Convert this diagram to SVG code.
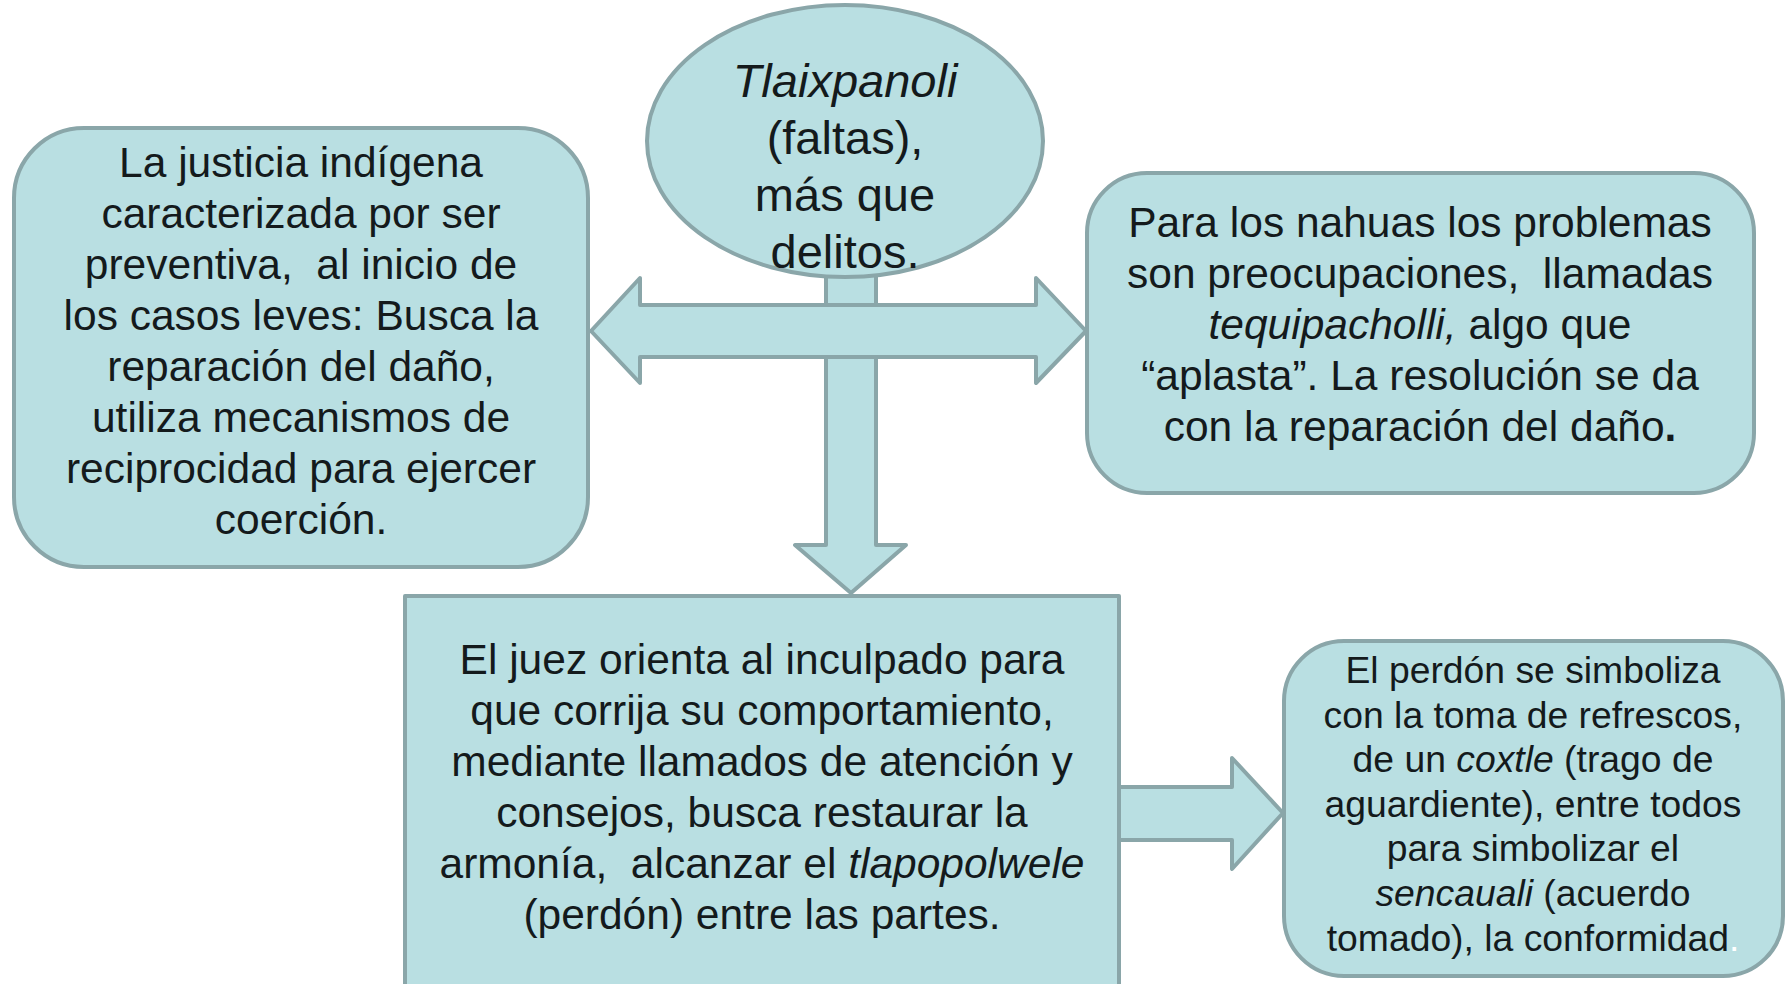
<svg xmlns="http://www.w3.org/2000/svg" width="1789" height="984" viewBox="0 0 1789 984">
<style>
.shape{fill:#B9DFE2;stroke:#8AA6A9;stroke-width:4;stroke-linejoin:round}
.t{font-family:"Liberation Sans",Arial,sans-serif;fill:#141a1c;text-anchor:middle;white-space:pre}
.t42{font-size:42.5px}
.t47{font-size:47px}
.t37{font-size:37.3px}
.i{font-style:italic}
</style>
<rect width="1789" height="984" fill="#ffffff"/>
<g id="connectors">
  <polygon class="shape" points="826,200 876,200 876,545 906,545 851,593 795,545 826,545"/>
  <polygon class="shape" points="591,331 640,278 640,305 1036,305 1036,278 1086,331 1036,383 1036,357 640,357 640,383"/>
  <polygon class="shape" points="1119,787 1232,787 1232,758 1283,813 1232,869 1232,840 1119,840"/>
</g>
<g id="node-tlaixpanoli">
  <ellipse class="shape" cx="845" cy="141" rx="198" ry="136"/>
  <text class="t t47"><tspan x="845" y="97" class="i">Tlaixpanoli</tspan><tspan x="845" y="154">(faltas),</tspan><tspan x="845" y="211">más que</tspan><tspan x="845" y="268">delitos.</tspan></text>
</g>
<g id="node-justicia">
  <rect class="shape" x="14" y="128" width="574" height="439" rx="70" ry="70"/>
  <text class="t t42" xml:space="preserve"><tspan x="301" y="177">La justicia indígena</tspan><tspan x="301" y="228">caracterizada por ser</tspan><tspan x="301" y="279">preventiva,  al inicio de</tspan><tspan x="301" y="330">los casos leves: Busca la</tspan><tspan x="301" y="381">reparación del daño,</tspan><tspan x="301" y="432">utiliza mecanismos de</tspan><tspan x="301" y="483">reciprocidad para ejercer</tspan><tspan x="301" y="534">coerción.</tspan></text>
</g>
<g id="node-nahuas">
  <rect class="shape" x="1087" y="173" width="667" height="320" rx="60" ry="60"/>
  <text class="t t42" xml:space="preserve"><tspan x="1420" y="237">Para los nahuas los problemas</tspan><tspan x="1420" y="288">son preocupaciones,  llamadas</tspan><tspan x="1420" y="339"><tspan class="i">tequipacholli,</tspan> algo que</tspan><tspan x="1420" y="390">“aplasta”. La resolución se da</tspan><tspan x="1420" y="441">con la reparación del daño<tspan font-weight="bold">.</tspan></tspan></text>
</g>
<g id="node-juez">
  <rect class="shape" x="405" y="596" width="714" height="400"/>
  <text class="t t42" xml:space="preserve"><tspan x="762" y="674">El juez orienta al inculpado para</tspan><tspan x="762" y="725">que corrija su comportamiento,</tspan><tspan x="762" y="776">mediante llamados de atención y</tspan><tspan x="762" y="827">consejos, busca restaurar la</tspan><tspan x="762" y="878">armonía,  alcanzar el <tspan class="i">tlapopolwele</tspan></tspan><tspan x="762" y="929">(perdón) entre las partes.</tspan></text>
</g>
<g id="node-perdon">
  <rect class="shape" x="1284" y="641" width="499" height="335" rx="60" ry="60"/>
  <text class="t t37" xml:space="preserve"><tspan x="1533" y="683">El perdón se simboliza</tspan><tspan x="1533" y="728">con la toma de refrescos,</tspan><tspan x="1533" y="772">de un <tspan class="i">coxtle</tspan> (trago de</tspan><tspan x="1533" y="817">aguardiente), entre todos</tspan><tspan x="1533" y="861">para simbolizar el</tspan><tspan x="1533" y="906"><tspan class="i">sencauali</tspan> (acuerdo</tspan><tspan x="1533" y="951">tomado), la conformidad<tspan fill="#ffffff">.</tspan></tspan></text>
</g>
</svg>
